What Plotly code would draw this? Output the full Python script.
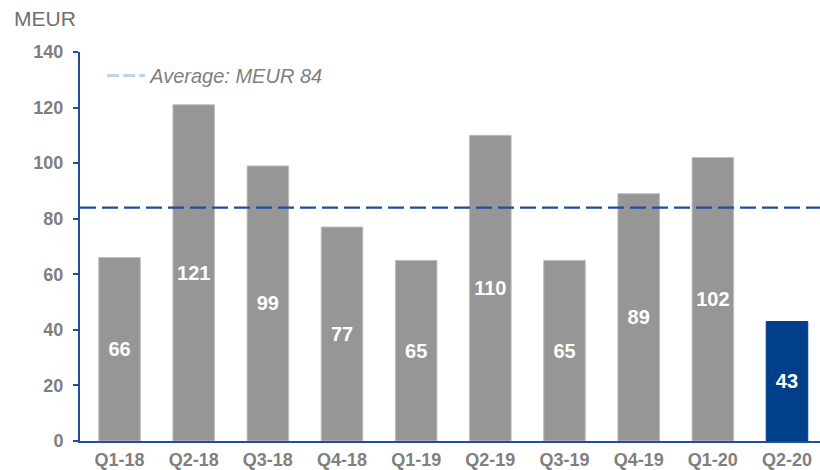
import plotly.graph_objects as go

quarters = ["Q1-18", "Q2-18", "Q3-18", "Q4-18", "Q1-19",
            "Q2-19", "Q3-19", "Q4-19", "Q1-20", "Q2-20"]
values = [66, 121, 99, 77, 65, 110, 65, 89, 102, 43]
average = 84

GREY = "#969696"
NAVY = "#003f8a"
AXIS_BLUE = "#1f4e9a"
TEXT_GREY = "#7f7f7f"
FONT = "Liberation Sans, Arial, sans-serif"

X_RANGE = [-0.533, 9.445]

bar_colors = [GREY] * (len(values) - 1) + [NAVY]
edge_colors = ["#bdbdbd"] * (len(values) - 1) + [NAVY]

fig = go.Figure()
fig.add_trace(go.Bar(
    x=list(range(len(quarters))), y=values,
    marker={"color": bar_colors, "line": {"color": edge_colors, "width": 1}},
    text=[str(v) for v in values], textposition="inside",
    insidetextanchor="middle",
    textfont={"family": FONT, "size": 20, "color": "white"},
    texttemplate="<b>%{text}</b>",
    showlegend=False, hoverinfo="skip",
))
# average line across the full width
fig.add_trace(go.Scatter(
    x=X_RANGE, y=[average, average], mode="lines",
    line={"color": AXIS_BLUE, "width": 2.2, "dash": "16px,6px"},
    showlegend=False, hoverinfo="skip",
))
# legend entry (pale symbol, as in the reference)
fig.add_trace(go.Scatter(
    x=[None], y=[None], mode="lines",
    line={"color": "#c3d2e8", "width": 3, "dash": "12px,4px"},
    name=f"<i>Average: MEUR {average}</i>",
))

fig.update_xaxes(
    range=X_RANGE, tickmode="array",
    tickvals=list(range(len(quarters))),
    ticktext=[f"<b>{q}</b>" for q in quarters],
    showline=True, linecolor=AXIS_BLUE, linewidth=2,
    ticks="", showgrid=False, zeroline=False, automargin=False,
    ticklabelstandoff=1,
    tickfont={"family": FONT, "size": 18, "color": TEXT_GREY},
)
fig.update_yaxes(
    range=[0, 140],
    tickvals=list(range(0, 141, 20)),
    ticktext=[f"<b>{v}</b>" for v in range(0, 141, 20)],
    showline=True, linecolor=AXIS_BLUE, linewidth=2,
    ticks="outside", ticklen=5, tickwidth=2, tickcolor=AXIS_BLUE,
    showgrid=False, zeroline=False, automargin=False,
    ticklabelstandoff=6,
    tickfont={"family": FONT, "size": 18, "color": TEXT_GREY},
)
fig.update_layout(
    width=820, height=470,
    margin={"l": 80, "r": 0, "t": 52, "b": 29},
    plot_bgcolor="white", paper_bgcolor="white",
    bargap=0.44,
    legend={"x": 0.03, "y": 0.99, "xanchor": "left", "yanchor": "top",
            "bgcolor": "rgba(0,0,0,0)", "itemwidth": 38,
            "font": {"family": FONT, "size": 20, "color": TEXT_GREY}},
    annotations=[{
        "text": "MEUR", "xref": "paper", "yref": "paper",
        "x": -68 / 740, "y": 1 + 34 / 389, "xanchor": "left", "yanchor": "middle",
        "showarrow": False, "font": {"family": FONT, "size": 21, "color": "#6f6f6f"},
    }],
)

# the page body has a default 8px margin; drop it so the figure sits at 0,0
fig.write_html("out.html", config={"displayModeBar": False},
               post_script="document.body.style.margin='0';")
